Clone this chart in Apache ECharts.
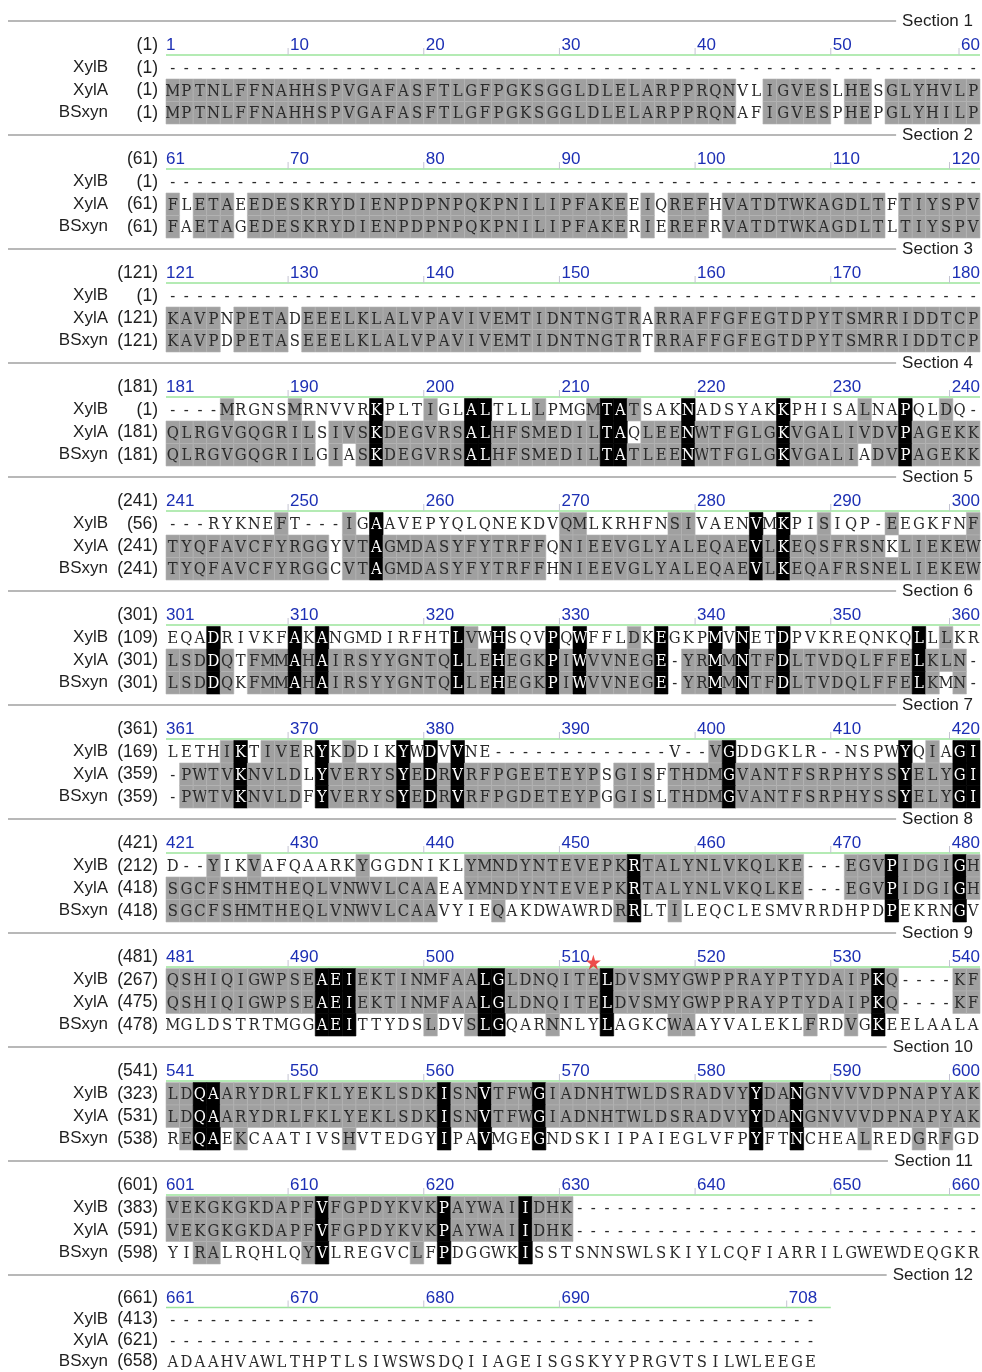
<!DOCTYPE html>
<html><head><meta charset="utf-8">
<script src="https://cdn.jsdelivr.net/npm/echarts@6/dist/echarts.min.js"></script>
<style>html,body{margin:0;padding:0;background:#fff}#c{width:982px;height:1372px}</style>
</head><body><div id="c"></div>
<script>
// ---------------- DATA ----------------
const rowNames = ['XylB', 'XylA', 'BSxyn'];
const sectionLabels = ['Section 1','Section 2','Section 3','Section 4','Section 5','Section 6','Section 7','Section 8','Section 9','Section 10','Section 11','Section 12'];
const rulerLabels = [
  [1,10,20,30,40,50,60],[61,70,80,90,100,110,120],[121,130,140,150,160,170,180],
  [181,190,200,210,220,230,240],[241,250,260,270,280,290,300],[301,310,320,330,340,350,360],
  [361,370,380,390,400,410,420],[421,430,440,450,460,470,480],[481,490,500,510,520,530,540],
  [541,550,560,570,580,590,600],[601,610,620,630,640,650,660],[661,670,680,690,708]
];
const seqXylB = [
  "---------- ---------- ---------- ---------- ---------- ----------",
  "---------- ---------- ---------- ---------- ---------- ----------",
  "---------- ---------- ---------- ---------- ---------- ----------",
  "----MRGNSM RNVVRKPLTI GLALTLLLPM GMTATSAKNA DSYAKKPHIS ALNAPQLDQ-",
  "---RYKNEFT ---IGAAVEP YQLQNEKDVQ MLKRHFNSIV AENVMKPISI QP-EEGKFNF",
  "EQADRIVKFA KANGMDIRFH TLVWHSQVPQ WFFLDKEGKP MVNETDPVKR EQNKQLLLKR",
  "LETHIKTIVE RYKDDIKYWD VVNE------ -------V-- VGDDGKLR-- NSPWYQIAGI",
  "D--YIKVAFQ AARKYGGDNI KLYMNDYNTE VEPKRTALYN LVKQLKE--- EGVPIDGIGH",
  "QSHIQIGWPS EAEIEKTINM FAALGLDNQI TELDVSMYGW PPRAYPTYDA IPKQ----KF",
  "LDQAARYDRL FKLYEKLSDK ISNVTFWGIA DNHTWLDSRA DVYYDANGNV VVDPNAPYAK",
  "VEKGKGKDAP FVFGPDYKVK PAYWAIIDHK ---------- ---------- ----------",
  "---------- ---------- ---------- ---------- --------"
];
const seqXylA = [
  "MPTNLFFNAH HSPVGAFASF TLGFPGKSGG LDLELARPPR QNVLIGVESL HESGLYHVLP",
  "FLETAEEDES KRYDIENPDP NPQKPNILIP FAKEEIQREF HVATDTWKAG DLTFTIYSPV",
  "KAVPNPETAD EEELKLALVP AVIVEMTIDN TNGTRARRAF FGFEGTDPYT SMRRIDDTCP",
  "QLRGVGQGRI LSIVSKDEGV RSALHFSMED ILTAQLEENW TFGLGKVGAL IVDVPAGEKK",
  "TYQFAVCFYR GGYVTAGMDA SYFYTRFFQN IEEVGLYALE QAEVLKEQSF RSNKLIEKEW",
  "LSDDQTFMMA HAIRSYYGNT QLLEHEGKPI WVVNEGE-YR MMNTFDLTVD QLFFELKLN-",
  "-PWTVKNVLD LYVERYSYED RVRFPGEETE YPSGISFTHD MGVANTFSRP HYSSYELYGI",
  "SGCFSHMTHE QLVNWVLCAA EAYMNDYNTE VEPKRTALYN LVKQLKE--- EGVPIDGIGH",
  "QSHIQIGWPS EAEIEKTINM FAALGLDNQI TELDVSMYGW PPRAYPTYDA IPKQ----KF",
  "LDQAARYDRL FKLYEKLSDK ISNVTFWGIA DNHTWLDSRA DVYYDANGNV VVDPNAPYAK",
  "VEKGKGKDAP FVFGPDYKVK PAYWAIIDHK ---------- ---------- ----------",
  "---------- ---------- ---------- ---------- --------"
];
const seqBSxyn = [
  "MPTNLFFNAH HSPVGAFASF TLGFPGKSGG LDLELARPPR QNAFIGVESP HEPGLYHILP",
  "FAETAGEDES KRYDIENPDP NPQKPNILIP FAKERIEREF RVATDTWKAG DLTLTIYSPV",
  "KAVPDPETAS EEELKLALVP AVIVEMTIDN TNGTRTRRAF FGFEGTDPYT SMRRIDDTCP",
  "QLRGVGQGRI LGIASKDEGV RSALHFSMED ILTATLEENW TFGLGKVGAL IADVPAGEKK",
  "TYQFAVCFYR GGCVTAGMDA SYFYTRFFHN IEEVGLYALE QAEVLKEQAF RSNELIEKEW",
  "LSDDQKFMMA HAIRSYYGNT QLLEHEGKPI WVVNEGE-YR MMNTFDLTVD QLFFELKMN-",
  "-PWTVKNVLD FYVERYSYED RVRFPGDETE YPGGISLTHD MGVANTFSRP HYSSYELYGI",
  "SGCFSHMTHE QLVNWVLCAA VYIEQAKDWA WRDRRLTILE QCLESMVRRD HPDPEKRNGV",
  "MGLDSTRTMG GAEITTYDSL DVSLGQARNN LYLAGKCWAA YVALEKLFRD VGKEELAALA",
  "REQAEKCAAT IVSHVTEDGY IPAVMGEGND SKIIPAIEGL VFPYFTNCHE ALREDGRFGD",
  "YIRALRQHLQ YVLREGVCLF PDGGWKISST SNNSWLSKIY LCQFIARRIL GWEWDEQGKR",
  "ADAAHVAWLT HPTLSIWSWS DQIIAGEISG SKYYPRGVTS ILWLEEGE"
];
// shading: '.' none, 'g' grey (similar), 'k' black (identical in all)
const shadeXylB = [
  "", "", "",
  "....g....g .....k...g ..kk...g.. .gkkg...k. .....k.... .g..k..g..",
  "........g. ...g.k.... .........g g......gg. ...k.k..g. ...g.....g",
  "...k.....k .k........ .kg.k...k. k...g.k... k.k..k.... .....k.g..",
  "....gk.ggg .k.g...k.k .k........ .......... gk........ ....k.g.kk",
  "...g..g... ....g..... ..gggggggg ggggkggggg ggggggg... gggkggggkg",
  "gggggggggg gkkkgggggg gggkkggggg ggkggggggg gggggggggg ggkg....gg",
  "ggkkgggggg gggggggggg kggkgggkgg gggggggggg gggkggkggg gggggggggg",
  "gggggggggg gkgggggggg kgggggkggg .......... .......... ..........",
  ""
];
const shadeXylA = [
  "gggggggggg gggggggggg gggggggggg gggggggggg gg..ggggg. gg.ggggggg",
  "g.ggg.gggg gggggggggg gggggggggg gggg.g.ggg .ggggggggg ggg.gggggg",
  "gggg.gggg. gggggggggg gggggggggg ggggg.gggg gggggggggg gggggggggg",
  "gggggggggg g.gggkgggg ggkkgggggg ggkk.gggkg gggggkgggg ggggkggggg",
  "gggggggggg gg.ggkgggg gggggggg.g gggggggggg gggkgkgggg ggg.gggggg",
  "gggkg.gggk gkgggggggg gkggkgggkg kgggggk.gg kgkggkgggg gggggkggg.",
  ".ggggkgggg .kgggggkgk gkgggggggg gg.ggg.ggg gkgggggggg ggggkgggkk",
  "gggggggggg gggggggggg ..gggggggg ggggkggggg ggggggg... gggkggggkg",
  "gggggggggg gkkkgggggg gggkkggggg ggkggggggg gggggggggg ggkg....gg",
  "ggkkgggggg gggggggggg kggkgggkgg gggggggggg gggkggkggg gggggggggg",
  "gggggggggg gkgggggggg kgggggkggg .......... .......... ..........",
  ""
];
const shadeBSxyn = [
  "gggggggggg gggggggggg gggggggggg gggggggggg gg..ggggg. gg.ggggggg",
  "g.ggg.gggg gggggggggg gggggggggg gggg.g.ggg .ggggggggg ggg.gggggg",
  "gggg.gggg. gggggggggg gggggggggg ggggg.gggg gggggggggg gggggggggg",
  "gggggggggg g.g.gkgggg ggkkgggggg ggkkggggkg gggggkgggg g.ggkggggg",
  "gggggggggg gg.ggkgggg gggggggg.g gggggggggg gggkgkgggg gggggggggg",
  "gggkg.gggk gkgggggggg gkggkgggkg kgggggk.gg kgkggkgggg gggggkg.g.",
  ".ggggkgggg .kgggggkgk gkgggggggg gg.ggg.ggg gkgggggggg ggggkgggkk",
  "gggggggggg gggggggggg ....g..... ...gk..g.. .......... ...k....k.",
  ".......... .kkk.....g ..gkk...g. ..k....gg. .......g.. g.k.......",
  ".gkk.g.... ...g...... k..k...k.. .......... ...k..k... .g...g.g..",
  "..gg...... gk......g. k.....k... .......... .......... ..........",
  ""
];
// red star marker: [section number, residue position]
const starMarks = [[9, 512]];

// ---------------- BUILD ----------------
const clean = s => s.replace(/ /g, '');
const seqs = [seqXylB, seqXylA, seqBSxyn].map(a => a.map(clean));
const shades = [shadeXylB, shadeXylA, shadeBSxyn].map(a => a.map(clean));
const starts = seqs.map(arr => { let n = 1; return arr.map(s => { const v = n; n += s.replace(/-/g, '').length; return v; }); });

const LEFT = 166, WIDTH = 814, TOP0 = 34, PITCH = 114, GH = 90;
const LABEL_FONT = '"Liberation Sans", Arial, sans-serif';
const SEQ_FONT = '16.5px "DejaVu Serif Condensed", "DejaVu Serif", serif';
const GREY = '#a0a0a0';
const GREEN = '#9be49b';

const grid = [], xAxis = [], yAxis = [], series = [], graphic = [];
for (let s = 0; s < 12; s++) {
  grid.push({ left: LEFT, top: TOP0 + PITCH * s, width: WIDTH, height: GH });
  xAxis.push({ type: 'value', gridIndex: s, min: 0, max: 60, show: false });
  yAxis.push({
    type: 'category', gridIndex: s, inverse: true,
    data: ['ruler'].concat(rowNames),
    axisLine: { show: false }, axisTick: { show: false }, splitLine: { show: false },
    axisLabel: {
      interval: 0, margin: 8,
      formatter: (v, i) => i === 0 ? `{p|(${rulerLabels[s][0]})}` : `{n|${v}}{p|(${starts[i - 1][s]})}`,
      rich: {
        n: { width: 64, align: 'right', fontSize: 17, fontFamily: LABEL_FONT, color: '#1e1e1e' },
        p: { width: 50, align: 'right', fontSize: 17.5, fontFamily: LABEL_FONT, color: '#1e1e1e' }
      }
    }
  });

  const cells = [];
  for (let r = 0; r < 3; r++) {
    const seq = seqs[r][s], sh = shades[r][s];
    for (let c = 0; c < seq.length; c++) {
      cells.push({ value: [c + 0.5, r + 1], ch: seq[c], sh: sh[c] || '.' });
    }
  }
  series.push({
    type: 'custom', xAxisIndex: s, yAxisIndex: s, silent: true,
    data: cells.map(d => d.value),
    renderItem: (params, api) => {
      const d = cells[params.dataIndex];
      const p = api.coord([api.value(0), api.value(1)]);
      const sz = api.size([1, 1]);
      const w = sz[0], h = sz[1];
      const ch = [];
      if (d.sh !== '.') {
        const blk = d.sh === 'k';
        ch.push({ type: 'rect', shape: { x: p[0] - w / 2, y: p[1] - h / 2, width: w, height: h },
          style: { fill: blk ? '#000' : GREY, stroke: blk ? '#000' : '#b3b3b3', lineWidth: 0.6 } });
      }
      ch.push({ type: 'text', x: p[0], y: p[1] + 1,
        style: { text: d.ch, font: SEQ_FONT, fill: d.sh === 'k' ? '#fff' : '#2a2a2a', align: 'center', verticalAlign: 'middle' } });
      return { type: 'group', children: ch };
    }
  });

  // ruler numbers + ticks + green line
  const labs = rulerLabels[s];
  const seqLen = seqs[2][s].length;
  series.push({
    type: 'custom', xAxisIndex: s, yAxisIndex: s, silent: true,
    data: labs.map(l => [l - labs[0] + 1, 0]),
    renderItem: (params, api) => {
      const col = api.value(0);
      const first = params.dataIndex === 0;
      const last = params.dataIndex === labs.length - 1;
      const txt = String(labs[params.dataIndex]);
      const p = api.coord([last ? col : col - 1, 0]);
      const h = api.size([1, 1])[1];
      const yLine = p[1] + h / 2 - 1.5;
      const ch = [{ type: 'text', x: p[0] + (last || first ? 0 : 2), y: p[1],
        style: { text: txt, font: '17px ' + LABEL_FONT, fill: '#1c2fb4', align: last ? 'right' : 'left', verticalAlign: 'middle' } }];
      if (!first) {
        const tx = last ? p[0] - txt.length * 9.5 - 2 : p[0];
        ch.push({ type: 'line', shape: { x1: tx, y1: yLine - 7, x2: tx, y2: yLine },
          style: { stroke: '#c4c4d2', lineWidth: 1 } });
      } else {
        const a = api.coord([0, 0]), b = api.coord([Math.min(seqLen + 1, 60), 0]);
        ch.push({ type: 'line', shape: { x1: a[0], y1: yLine, x2: b[0], y2: yLine },
          style: { stroke: GREEN, lineWidth: 1.5 } });
      }
      return { type: 'group', children: ch };
    }
  });

  // section separator
  const yS = TOP0 + PITCH * s - 13;
  graphic.push({ type: 'line', shape: { x1: 8, y1: yS, x2: 982, y2: yS }, style: { stroke: '#a0a0a0', lineWidth: 1.5 }, silent: true });
  graphic.push({ type: 'text', x: 988, y: yS, silent: true,
    style: { text: sectionLabels[s], font: '17px ' + LABEL_FONT, fill: '#1e1e1e', align: 'right', verticalAlign: 'middle', backgroundColor: '#fff', padding: [2, 15, 2, 6] } });
}

starMarks.forEach(([sec, pos]) => {
  const s = sec - 1;
  series.push({
    type: 'scatter', xAxisIndex: s, yAxisIndex: s, silent: true,
    data: [[pos - rulerLabels[s][0] + 0.5, 0]],
    symbol: 'path://M50,0 L61,35 L98,35 L68,57 L79,91 L50,70 L21,91 L32,57 L2,35 L39,35 Z',
    symbolSize: 15, symbolOffset: [0, 5], itemStyle: { color: '#e8211e' }, z: 10
  });
});

const chart = echarts.init(document.getElementById('c'), null, { renderer: 'canvas' });
chart.setOption({ animation: false, backgroundColor: '#fff', grid, xAxis, yAxis, series, graphic });
</script>
</body></html>
